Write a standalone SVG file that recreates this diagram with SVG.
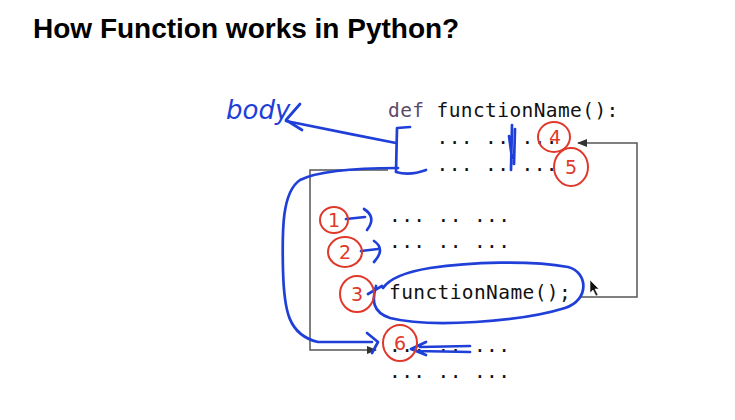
<svg xmlns="http://www.w3.org/2000/svg" width="735" height="420" viewBox="0 0 735 420">
  <defs>
    <style>
      .title { font-family: "Liberation Sans", Arial, sans-serif; font-weight: bold; font-size: 28px; fill: #000; }
      .code { font-family: "DejaVu Sans Mono", "Liberation Mono", monospace; font-size: 19.5px; letter-spacing: 0.4px; fill: #111; white-space: pre; }
      .kw { fill: #5b4a68; }
      .flow { fill: none; stroke: #555; stroke-width: 1.5; }
      .pen { fill: none; stroke: #1f3fd8; stroke-width: 2.7; stroke-linecap: round; stroke-linejoin: round; }
      .ink { fill: none; stroke: #e0392b; stroke-width: 2; }
      .num { font-family: "DejaVu Sans", "Liberation Sans", sans-serif; font-size: 19px; fill: #e0392b; text-anchor: middle; }
      .hand { font-family: "DejaVu Sans", sans-serif; font-style: oblique; font-size: 26px; fill: #1f3fd8; }
    </style>
    <marker id="head" viewBox="0 0 10 10" refX="9" refY="5" markerWidth="7" markerHeight="7" orient="auto">
      <path d="M0,1 L10,5 L0,9 Z" fill="#333"/>
    </marker>
  </defs>

  <rect width="735" height="420" fill="#fff"/>

  <text class="title" x="33" y="38">How Function works in Python?</text>

  <!-- code lines -->
  <g id="line-def"><text class="code" x="388" y="117"><tspan class="kw">def</tspan> functionName():</text></g>
  <g id="line-body1"><text class="code" x="388" y="144">    ... .. ...</text></g>
  <g id="line-body2"><text class="code" x="388" y="171">    ... .. ...</text></g>
  <g id="line-stmt1"><text class="code" x="389" y="222">... .. ...</text></g>
  <g id="line-stmt2"><text class="code" x="389" y="248">... .. ...</text></g>
  <g id="line-call"><text class="code" x="389" y="299">functionName();</text></g>
  <g id="line-stmt3"><text class="code" x="389" y="352">... .. ...</text></g>
  <g id="line-stmt4"><text class="code" x="389" y="378">... .. ...</text></g>

  <!-- control flow connectors -->
  <g id="connectors">
    <path class="flow" d="M580,297 H637 V143 H578" marker-end="url(#head)"/>
    <path class="flow" d="M388,170 H310 V350 H376" marker-end="url(#head)"/>
  </g>

  <!-- mouse pointer -->
  <path d="M590,280 L590,293 L593,290 L596,296 L598,295 L595,289 L599,289 Z" fill="#111" stroke="#fff" stroke-width="0.6"/>

  <!-- pen annotations -->
  <g id="notes-blue">
    <text class="hand" x="226" y="119">body</text>
    <path class="pen" d="M300,104 L286,120 L302,130"/>
    <path class="pen" d="M286,121 C320,128 360,136 396,143"/>
    <path class="pen" d="M410,127 L397,128 L396,172 Q410,176 426,170"/>
    <path class="pen" d="M512,125 L511,170 M515,129 L514,164 M509,136 L512,158"/>
    <path class="pen" d="M398,168 C365,168 320,170 300,180 C282,192 282,230 283,270 C284,310 288,335 318,342 L372,342"/>
    <path class="pen" d="M367,333 L378,342 L372,353"/>
    <path class="pen" d="M346,219 L365,217 M364,209 Q377,217 367,230"/>
    <path class="pen" d="M361,251 L378,249 M374,241 Q386,249 374,262"/>
    <path class="pen" d="M368,294 L382,286 M376,286 C372,300 372,312 390,318 C430,328 520,322 565,308 C590,300 588,272 568,267 C530,260 470,262 430,268 C405,272 390,278 383,288"/>
    <path class="pen" d="M470,346 L420,347 M470,352 L416,351 M426,342 L411,349 L426,355"/>
  </g>

  <g id="notes-red">
    <ellipse class="ink" cx="334" cy="220" rx="14" ry="13"/>
    <text class="num" x="334" y="227">1</text>
    <ellipse class="ink" cx="345" cy="252" rx="17" ry="15"/>
    <text class="num" x="345" y="259">2</text>
    <ellipse class="ink" cx="357" cy="294" rx="17" ry="18"/>
    <text class="num" x="357" y="301">3</text>
    <ellipse class="ink" cx="554" cy="137" rx="16" ry="15"/>
    <text class="num" x="555" y="144">4</text>
    <ellipse class="ink" cx="571" cy="167" rx="17" ry="19"/>
    <text class="num" x="571" y="174">5</text>
    <ellipse class="ink" cx="400" cy="343" rx="17" ry="18"/>
    <text class="num" x="400" y="350">6</text>
  </g>
</svg>
